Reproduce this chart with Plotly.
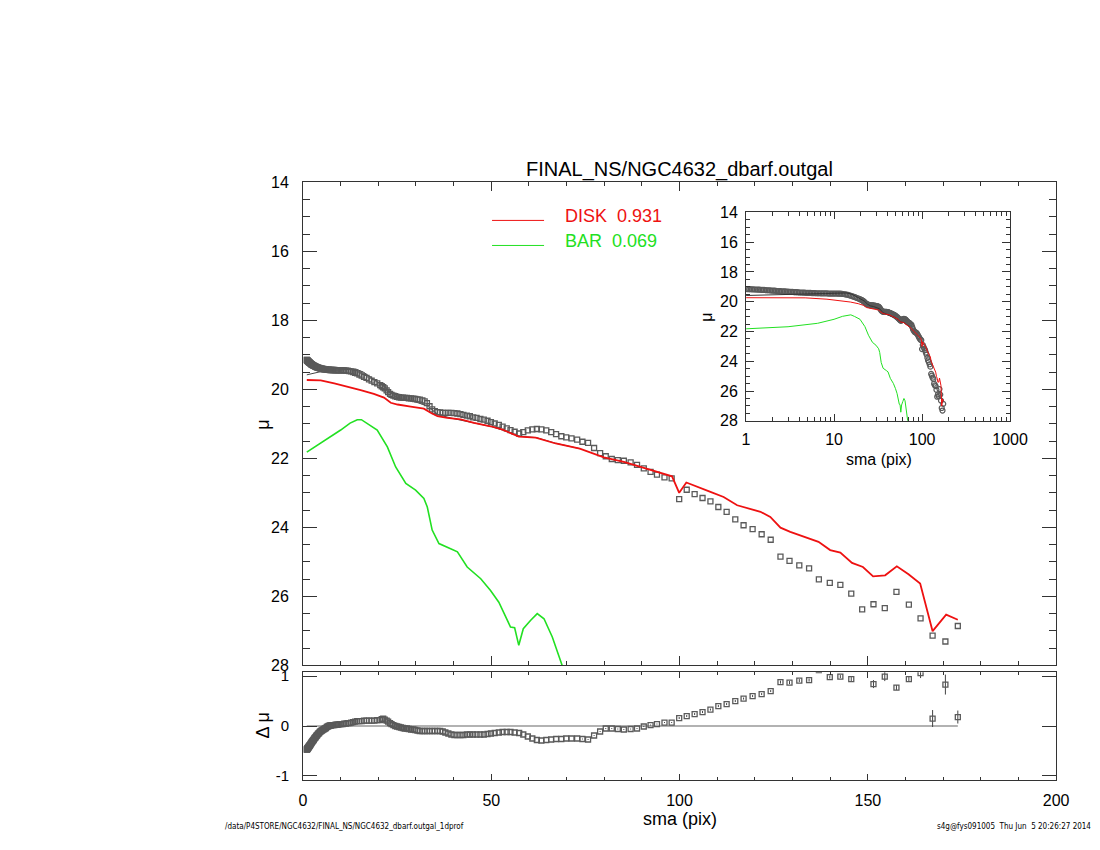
import plotly.graph_objects as go

# radial profile of NGC4632 (sma in pix, surface brightness mu, residual dmu)
sma_core = [1.00, 1.04, 1.08, 1.12, 1.17, 1.22, 1.27, 1.32, 1.37, 1.42, 1.48, 1.54, 1.60, 1.67, 1.73, 1.80, 1.87,
            1.95, 2.03, 2.11, 2.19, 2.28, 2.37, 2.46, 2.56, 2.67, 2.77, 2.88, 3.00, 3.12, 3.24, 3.37, 3.51, 3.65,
            3.79, 3.95, 4.10, 4.27, 4.44, 4.62, 4.80, 4.99, 5.19, 5.40, 5.62, 5.84, 6.07, 6.32, 6.57, 6.83, 7.11,
            7.39, 7.69, 8.00, 8.32, 8.65, 9.00, 9.36, 9.73, 10.12, 10.52, 10.95, 11.38, 11.84, 12.31, 12.80,
            13.32, 13.85, 14.40, 14.98, 15.58, 16.20, 16.85, 17.52, 18.22, 18.95, 19.71]
mu_core = [19.15, 19.15, 19.16, 19.16, 19.17, 19.17, 19.18, 19.18, 19.19, 19.19, 19.20, 19.21, 19.21, 19.22, 19.23,
           19.23, 19.24, 19.25, 19.25, 19.26, 19.27, 19.28, 19.28, 19.29, 19.30, 19.30, 19.31, 19.32, 19.32, 19.33,
           19.34, 19.34, 19.35, 19.36, 19.36, 19.37, 19.38, 19.38, 19.39, 19.39, 19.40, 19.40, 19.41, 19.41, 19.42,
           19.42, 19.42, 19.43, 19.43, 19.43, 19.44, 19.44, 19.44, 19.44, 19.44, 19.45, 19.45, 19.45, 19.45, 19.45,
           19.45, 19.45, 19.46, 19.46, 19.47, 19.48, 19.50, 19.52, 19.54, 19.57, 19.60, 19.64, 19.67, 19.71, 19.75,
           19.79, 19.83]
dmu_core = [-0.47, -0.47, -0.46, -0.46, -0.45, -0.45, -0.44, -0.44, -0.43, -0.43, -0.42, -0.41, -0.41, -0.40,
            -0.39, -0.39, -0.38, -0.37, -0.36, -0.35, -0.34, -0.33, -0.32, -0.31, -0.30, -0.29, -0.28, -0.27,
            -0.25, -0.24, -0.23, -0.22, -0.20, -0.19, -0.18, -0.16, -0.15, -0.14, -0.12, -0.11, -0.10, -0.09,
            -0.08, -0.07, -0.06, -0.05, -0.04, -0.02, -0.01, 0.00, 0.01, 0.01, 0.02, 0.02, 0.02, 0.03, 0.03,
            0.03, 0.04, 0.04, 0.04, 0.05, 0.05, 0.06, 0.06, 0.07, 0.08, 0.09, 0.10, 0.10, 0.10, 0.11, 0.11,
            0.11, 0.11, 0.11, 0.12]

sma_mid = [20.5, 20.9, 21.3, 21.7, 22.2, 22.6, 23.1, 23.5, 24.0, 24.5, 25.0, 25.5, 26.0, 26.5, 27.0, 27.6, 28.1,
           28.7, 29.3, 29.8, 30.4, 31.0, 31.7, 32.3, 32.9, 33.6, 34.3, 35.0, 35.7, 36.4, 37.1, 37.8, 38.6, 39.4,
           40.2, 41.0, 41.8, 42.6, 43.5, 44.3, 45.2, 46.1, 47.1, 48.0, 49.0, 49.9, 50.9, 52.0, 53.0, 54.1, 55.1,
           56.2, 57.4, 58.5, 59.7, 60.9, 62.1, 63.3, 64.6, 65.9, 67.2, 68.6, 69.9, 71.3, 72.8]
mu_mid = [19.88, 19.91, 19.94, 19.97, 20.03, 20.08, 20.13, 20.16, 20.18, 20.20, 20.22, 20.23, 20.24, 20.24, 20.25,
          20.25, 20.26, 20.26, 20.27, 20.28, 20.29, 20.30, 20.32, 20.35, 20.40, 20.49, 20.58, 20.63, 20.66, 20.67,
          20.68, 20.68, 20.68, 20.68, 20.69, 20.70, 20.72, 20.74, 20.76, 20.78, 20.81, 20.83, 20.86, 20.88, 20.91,
          20.95, 20.99, 21.03, 21.08, 21.13, 21.18, 21.23, 21.28, 21.24, 21.19, 21.16, 21.15, 21.16, 21.19, 21.24,
          21.30, 21.36, 21.39, 21.42, 21.46]
dmu_mid = [0.12, 0.14, 0.15, 0.13, 0.11, 0.09, 0.06, 0.04, 0.02, 0.00, -0.01, -0.02, -0.03, -0.04, -0.05,
           -0.05, -0.06, -0.07, -0.07, -0.08, -0.09, -0.10, -0.10, -0.10, -0.10, -0.10, -0.10, -0.10, -0.10, -0.10,
           -0.11, -0.13, -0.15, -0.17, -0.18, -0.18, -0.18, -0.18, -0.17, -0.17, -0.17, -0.17, -0.17, -0.17, -0.16,
           -0.15, -0.14, -0.13, -0.12, -0.12, -0.12, -0.13, -0.14, -0.17, -0.21, -0.25, -0.28, -0.29, -0.28, -0.27,
           -0.26, -0.26, -0.25, -0.25, -0.25]

sma_out = [74.2, 75.7, 77.3, 78.9, 80.4, 82.0, 83.6, 85.2, 87.0, 88.7, 90.5, 92.3, 94.0, 96.0, 97.9, 99.9, 101.9,
           104.0, 106.1, 108.2, 110.3, 112.5, 114.8, 117.0, 119.4, 121.8, 124.2, 126.8, 129.2, 131.8, 134.4, 137.0,
           139.9, 142.7, 145.6, 148.5, 151.5, 154.5, 157.6, 160.9, 164.0, 167.2, 170.6, 173.9]
mu_out = [21.52, 21.55, 21.70, 21.85, 21.94, 22.02, 22.05, 22.07, 22.12, 22.19, 22.29, 22.39, 22.47, 22.55, 22.58,
          23.18, 22.91, 23.04, 23.15, 23.25, 23.41, 23.55, 23.77, 23.94, 24.05, 24.20, 24.36, 24.85, 24.97, 25.10,
          25.19, 25.51, 25.61, 25.67, 25.92, 26.38, 26.23, 26.34, 25.87, 26.24, 26.64, 27.14, 27.31, 26.86]
dmu_out = [-0.26, -0.27, -0.19, -0.11, -0.05, -0.05, -0.06, -0.07, -0.06, -0.05, -0.01, 0.02, 0.04, 0.07, 0.07,
           0.16, 0.20, 0.24, 0.28, 0.33, 0.40, 0.44, 0.50, 0.55, 0.60, 0.64, 0.70, 0.88, 0.87, 0.91,
           0.92, 1.12, 0.98, 0.99, 0.94, 1.20, 0.84, 0.99, 0.77, 0.94, 1.06, 0.15, 0.83, 0.18]
err_out = [0.01, 0.01, 0.01, 0.01, 0.01, 0.01, 0.01, 0.01, 0.01, 0.01, 0.01, 0.01, 0.01, 0.01, 0.01,
           0.02, 0.02, 0.02, 0.02, 0.02, 0.02, 0.02, 0.02, 0.02, 0.02, 0.02, 0.02, 0.03, 0.03, 0.03,
           0.03, 0.03, 0.03, 0.03, 0.04, 0.05, 0.08, 0.09, 0.05, 0.05, 0.10, 0.17, 0.20, 0.13]

# fitted components
disk_sma = [1.0, 3.0, 4.7, 8.3, 11.8, 15.3, 18.8, 21.5, 23.3, 25.1, 28.6, 32.1, 33.9, 35.7, 38.3, 41.9, 45.4, 49.8,
            53.0, 57.3, 61.8, 67.1, 73.5, 79.9, 85.2, 89.6, 98.0, 99.9, 101.8, 108.2, 111.7, 115.3, 121.5, 124.1,
            126.8, 129.4, 136.9, 140.0, 142.7, 145.8, 148.7, 151.4, 154.6, 157.7, 160.8, 163.9, 167.2, 170.8, 173.9]
disk_mu = [19.73, 19.73, 19.74, 19.83, 19.92, 20.02, 20.13, 20.24, 20.39, 20.44, 20.50, 20.56, 20.68, 20.78, 20.83,
           20.87, 20.97, 21.07, 21.17, 21.37, 21.40, 21.57, 21.72, 21.97, 22.10, 22.25, 22.52, 23.00, 22.70, 22.97,
           23.12, 23.36, 23.55, 23.70, 24.01, 24.13, 24.42, 24.66, 24.73, 25.03, 25.15, 25.42, 25.39, 25.13, 25.36,
           25.63, 27.01, 26.53, 26.68]

bar_sma = [1.0, 3.0, 6.5, 10.0, 12.5, 14.4, 15.5, 17.1, 19.7, 22.4, 24.6, 27.3, 29.9, 32.1, 33.0, 34.3, 36.1,
           39.2, 41.0, 43.6, 47.2, 49.8, 52.0, 55.1, 56.2, 57.3, 58.5, 60.4, 62.2, 64.0, 66.2, 68.8, 72.0]
bar_mu = [21.82, 21.68, 21.45, 21.18, 20.98, 20.88, 20.88, 20.99, 21.18, 21.67, 22.25, 22.73, 22.92, 23.16, 23.41,
          24.08, 24.47, 24.62, 24.71, 25.15, 25.49, 25.83, 26.17, 26.89, 26.91, 27.42, 26.94, 26.70, 26.50, 26.65,
          27.18, 28.00, 28.90]

model_sma = [1.0, 2.0, 3.0, 4.0, 5.0, 6.5, 8.0, 10.0, 12.0, 14.0, 16.0, 18.0, 20.0, 22.0, 24.0, 26.0, 28.0, 30.0,
             33.0, 36.0, 40.0, 45.0, 50.0, 55.0, 57.3, 62.0, 67.0, 73.5]
model_mu = [19.58, 19.55, 19.52, 19.50, 19.48, 19.46, 19.45, 19.43, 19.41, 19.41, 19.50, 19.65, 19.78, 19.95, 20.17,
            20.28, 20.32, 20.37, 20.48, 20.74, 20.85, 20.97, 21.08, 21.25, 21.36, 21.40, 21.56, 21.72]

fractions = {"DISK": 0.931, "BAR": 0.069}

sma = sma_core + sma_mid + sma_out
mu = mu_core + mu_mid + mu_out
dmu = dmu_core + dmu_mid + dmu_out
dmu_err = [0.0] * len(sma_core + sma_mid) + err_out

RED = "#ee1111"
GREEN = "#22e022"
PT = "#5a5a5a"
FONT = "Liberation Sans"

# the page is photographed slightly shrunk and offset; positions below are
# given in pixels of the final picture and converted to paper fractions
W, H = 1105, 850
SCALE_X, SCALE_Y = 0.980, 0.978
OFF_X, OFF_Y = 11, 17


def px(X):
    return (X - OFF_X) / SCALE_X / W


def py(Y):
    return 1 - (Y - OFF_Y) / SCALE_Y / H


fig = go.Figure()

# main panel
fig.add_trace(go.Scatter(x=model_sma, y=model_mu, mode="lines", line=dict(color="#444", width=1),
                         xaxis="x", yaxis="y"))
fig.add_trace(go.Scatter(x=sma, y=mu, mode="markers",
                         marker=dict(symbol="square-open", size=5, color=PT, line=dict(width=1.3)),
                         xaxis="x", yaxis="y"))
fig.add_trace(go.Scatter(x=disk_sma, y=disk_mu, mode="lines", line=dict(color=RED, width=1.8),
                         xaxis="x", yaxis="y"))
fig.add_trace(go.Scatter(x=bar_sma, y=bar_mu, mode="lines", line=dict(color=GREEN, width=1.6),
                         xaxis="x", yaxis="y"))

# residual panel
fig.add_trace(go.Scatter(x=[sma[0], sma[-1]], y=[0, 0], mode="lines", line=dict(color="#999", width=1.6),
                         xaxis="x2", yaxis="y2"))
fig.add_trace(go.Scatter(x=sma, y=dmu, mode="markers",
                         marker=dict(symbol="square-open", size=5, color=PT, line=dict(width=1.3)),
                         error_y=dict(type="data", array=dmu_err, color="#444", thickness=1, width=0),
                         xaxis="x2", yaxis="y2"))

# log inset
fig.add_trace(go.Scatter(x=sma, y=mu, mode="markers",
                         marker=dict(symbol="circle-open", size=5, color=PT, line=dict(width=1.2)),
                         xaxis="x3", yaxis="y3"))
fig.add_trace(go.Scatter(x=model_sma, y=model_mu, mode="lines", line=dict(color="#333", width=1),
                         xaxis="x3", yaxis="y3"))
fig.add_trace(go.Scatter(x=disk_sma, y=disk_mu, mode="lines", line=dict(color=RED, width=1),
                         xaxis="x3", yaxis="y3"))
fig.add_trace(go.Scatter(x=bar_sma, y=bar_mu, mode="lines", line=dict(color=GREEN, width=1),
                         xaxis="x3", yaxis="y3"))

axis_common = dict(showline=True, linecolor="#333", linewidth=1, mirror="allticks", ticks="inside",
                   tickcolor="#333", showgrid=False, zeroline=False,
                   tickfont=dict(family=FONT, size=16, color="black"))
minor_style = dict(ticks="inside", tickcolor="#333")

main_x = [px(302), px(1055)]
fig.update_layout(
    width=W, height=H,
    margin=dict(l=0, r=0, t=0, b=0),
    paper_bgcolor="white", plot_bgcolor="rgba(0,0,0,0)",
    showlegend=False,
    xaxis=dict(axis_common, domain=main_x, range=[0, 200], dtick=50, ticklen=9,
               showticklabels=False, anchor="y", minor=dict(minor_style, dtick=10, ticklen=4)),
    yaxis=dict(axis_common, domain=[py(665), py(183)], range=[28, 14], dtick=2, ticklen=14,
               ticklabelstandoff=10, anchor="x", minor=dict(minor_style, dtick=0.5, ticklen=7)),
    xaxis2=dict(axis_common, domain=main_x, range=[0, 200], dtick=50, ticklen=6,
                ticklabelstandoff=6, anchor="y2", minor=dict(minor_style, dtick=10, ticklen=3)),
    yaxis2=dict(axis_common, domain=[py(779), py(672)], range=[-1.072, 1.075], tickvals=[-1, 0, 1],
                ticktext=["-1", "0", "1"], ticklen=14, ticklabelstandoff=10, anchor="x2",
                tickfont=dict(family=FONT, size=15, color="black")),
    xaxis3=dict(axis_common, domain=[px(745), px(1009)], type="log", range=[0, 3],
                tickvals=[1, 10, 100, 1000], ticktext=["1", "10", "100", "1000"], ticklen=7,
                ticklabelstandoff=4, anchor="y3", minor=dict(minor_style, dtick="D1", ticklen=4)),
    yaxis3=dict(axis_common, domain=[py(421), py(213)], range=[28, 14], dtick=2, ticklen=8,
                ticklabelstandoff=4, anchor="x3", minor=dict(minor_style, dtick=0.5, ticklen=4)),
)

# legend drawn like the IDL plot: short line + coloured label
legend_rows = [("DISK", RED, 221), ("BAR", GREEN, 246)]
for name, col, ypix in legend_rows:
    fig.add_shape(type="line", xref="paper", yref="paper", x0=px(491), x1=px(543), y0=py(ypix), y1=py(ypix),
                  line=dict(color=col, width=1))
    fig.add_annotation(xref="paper", yref="paper", x=px(562), y=py(ypix - 4), xanchor="left", yanchor="middle",
                       text=f"{name}  {fractions[name]:.3f}", showarrow=False,
                       font=dict(family=FONT, size=18, color=col))

texts = [
    ("FINAL_NS/NGC4632_dbarf.outgal", 678, 170, 20, 0),
    ("μ", 262, 425, 18, -90),
    ("Δ μ", 262, 725, 18, -90),
    ("sma (pix)", 679, 818, 18, 0),
    ("μ", 706, 318, 16, -90),
    ("sma (pix)", 878, 460, 16, 0),
]
for txt, xp, yp, size, ang in texts:
    fig.add_annotation(xref="paper", yref="paper", x=px(xp), y=py(yp), text=txt, showarrow=False,
                       xanchor="center", yanchor="middle", textangle=ang,
                       font=dict(family=FONT, size=size, color="black"))

foot_font = dict(family="DejaVu Sans Condensed, Liberation Sans", size=8, color="black")
fig.add_annotation(xref="paper", yref="paper", x=px(222), y=py(826), xanchor="left", yanchor="middle",
                   text="/data/P4STORE/NGC4632/FINAL_NS/NGC4632_dbarf.outgal_1dprof", showarrow=False,
                   font=foot_font)
fig.add_annotation(xref="paper", yref="paper", x=px(1092), y=py(826), xanchor="right", yanchor="middle",
                   text="s4g@fys091005  Thu Jun  5 20:26:27 2014", showarrow=False, font=foot_font)

fig.write_html("out.html")
